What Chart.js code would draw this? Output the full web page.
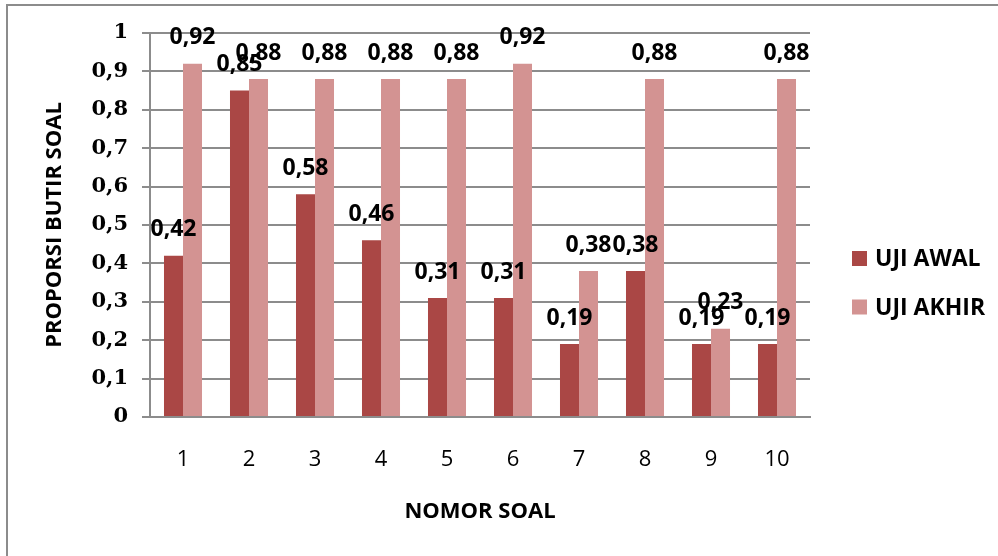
<!DOCTYPE html>
<html>
<head>
<meta charset="utf-8">
<script src="https://cdn.jsdelivr.net/npm/chart.js@4.4.0/dist/chart.umd.min.js"></script>
<style>
    html, body { margin: 0; padding: 0; background: #fff; }
    .frame { position: absolute; left: 6px; top: 4px; width: 1100px; height: 700px; border-left: 2px solid #8c8c8c; border-top: 2px solid #8c8c8c; }
    .chart-container { position: absolute; left: 0; top: 0; width: 998px; height: 556px; }
</style>
</head>
<body>
<div class="frame"></div>
<div class="chart-container"><canvas id="mainChart"></canvas></div>
<script>
// Data
const categories = ['1', '2', '3', '4', '5', '6', '7', '8', '9', '10'];
const ujiAwal = [0.42, 0.85, 0.58, 0.46, 0.31, 0.31, 0.19, 0.38, 0.19, 0.19];
const ujiAkhir = [0.92, 0.88, 0.88, 0.88, 0.88, 0.92, 0.38, 0.88, 0.23, 0.88];
const seriesNames = ['UJI AWAL', 'UJI AKHIR'];
const seriesColors = ['#AA4745', '#D39392'];

const SANS = '"Open Sans", sans-serif';
const GRID = '#8c8c8c';

function commaNum(v) {
    return String(Math.round(v * 100) / 100).replace('.', ',');
}

// value labels above each bar
const valueLabels = {
    id: 'valueLabels',
    afterDatasetsDraw(chart) {
        const ctx = chart.ctx;
        ctx.save();
        ctx.font = 'bold 23px ' + SANS;
        ctx.fillStyle = '#000';
        ctx.textAlign = 'center';
        ctx.textBaseline = 'middle';
        chart.data.datasets.forEach((ds, i) => {
            chart.getDatasetMeta(i).data.forEach((bar, j) => {
                ctx.fillText(commaNum(ds.data[j]), bar.x, bar.y - 26);
            });
        });
        ctx.restore();
    }
};

// legend on the right
const sideLegend = {
    id: 'sideLegend',
    afterDraw(chart) {
        const ctx = chart.ctx;
        ctx.save();
        ctx.font = 'bold 23px ' + SANS;
        ctx.textBaseline = 'middle';
        chart.data.datasets.forEach((ds, i) => {
            const y = 258.5 + i * 48.5;
            ctx.fillStyle = ds.backgroundColor;
            ctx.fillRect(852, y - 7.5, 15, 15);
            ctx.fillStyle = '#000';
            ctx.fillText(ds.label, 875, y + 1);
        });
        ctx.restore();
    }
};

const ctx = document.getElementById('mainChart').getContext('2d');
const chart = new Chart(ctx, {
    type: 'bar',
    data: {
        labels: categories,
        datasets: [
            { label: seriesNames[0], data: ujiAwal, backgroundColor: seriesColors[0] },
            { label: seriesNames[1], data: ujiAkhir, backgroundColor: seriesColors[1] }
        ]
    },
    options: {
        responsive: true,
        maintainAspectRatio: false,
        animation: false,
        layout: { padding: { left: 42, top: 33, right: 188, bottom: 31 } },
        datasets: {
            bar: { barPercentage: 1, categoryPercentage: 0.576 }
        },
        plugins: {
            legend: { display: false },
            tooltip: { enabled: false }
        },
        scales: {
            x: {
                grid: { display: false, drawTicks: false, tickLength: 0 },
                border: { display: true, color: GRID, width: 2 },
                ticks: { color: '#000', padding: 30, font: { family: SANS, size: 22 } },
                title: {
                    display: true, text: 'NOMOR SOAL', color: '#000',
                    padding: 0, font: { family: SANS, size: 22, weight: 'bold' }
                },
                afterFit: (scale) => { scale.height = 108; }
            },
            y: {
                min: 0,
                max: 1,
                ticks: {
                    stepSize: 0.1,
                    color: '#000',
                    padding: 14,
                    font: { family: '"DejaVu Serif", serif', size: 21, weight: 'bold' },
                    callback: (v) => commaNum(v)
                },
                grid: { color: GRID, lineWidth: 2, tickLength: 8 },
                border: { display: true, color: GRID, width: 2 },
                title: {
                    display: true, text: 'PROPORSI BUTIR SOAL', color: '#000',
                    padding: 0, font: { family: SANS, size: 22, weight: 'bold' }
                },
                afterFit: (scale) => { scale.width = 108; }
            }
        }
    },
    plugins: [valueLabels, sideLegend]
});
</script>
</body>
</html>
